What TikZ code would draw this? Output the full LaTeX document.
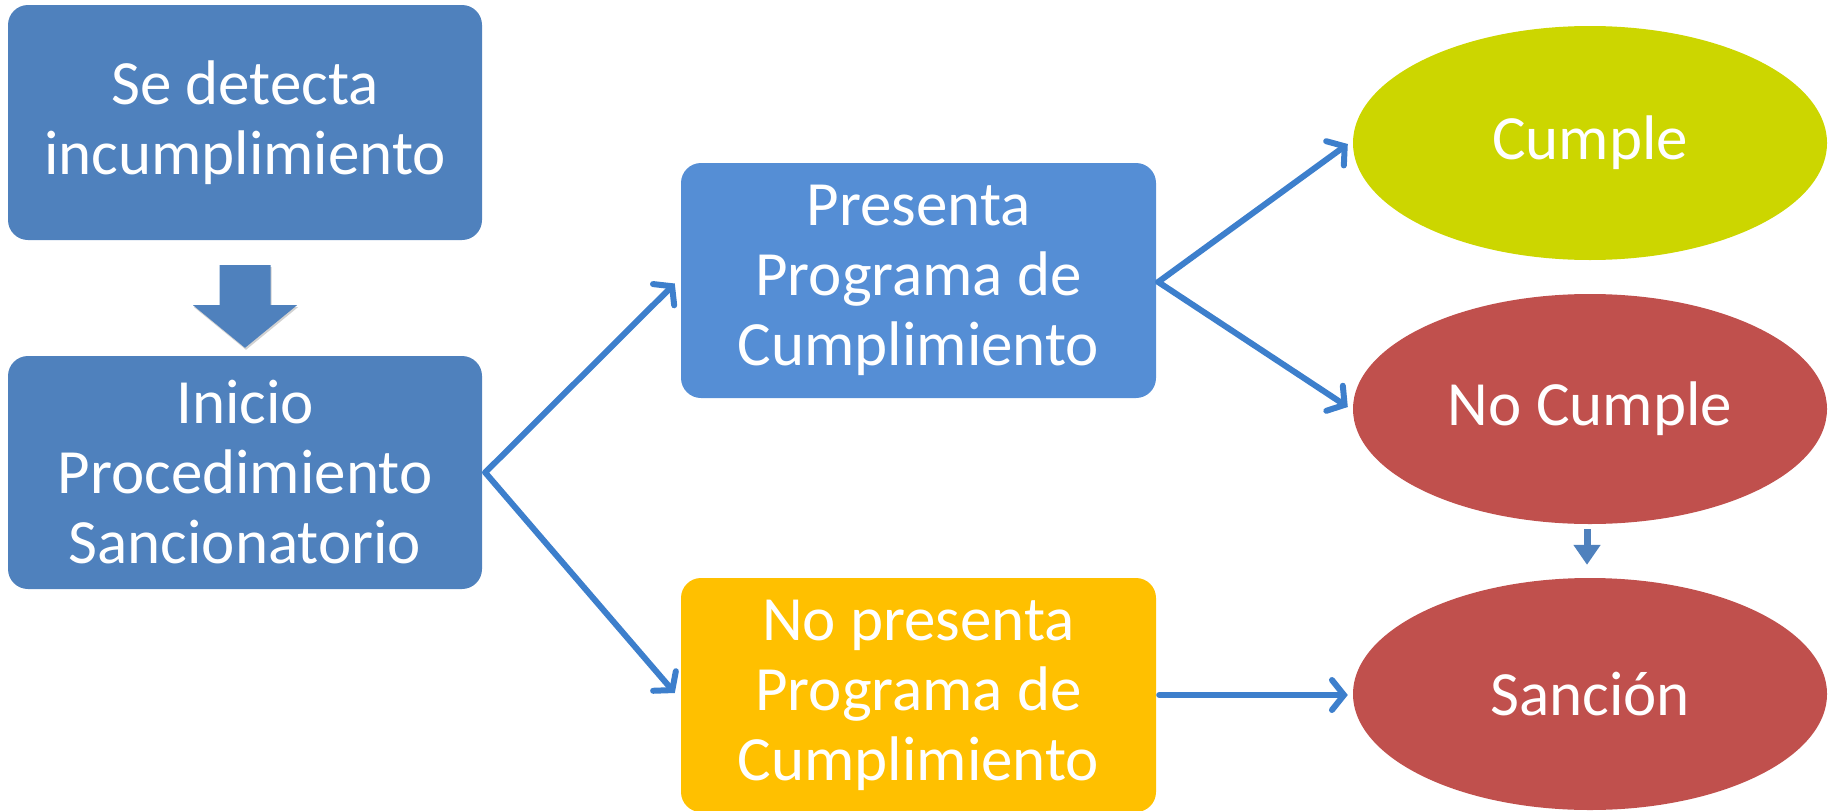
\documentclass[tikz,border=0pt]{standalone}
\usepackage{fontspec}
\setmainfont{Carlito}
\usetikzlibrary{shapes.geometric,arrows.meta,calc}
\definecolor{boxblue}{HTML}{4F81BD}
\definecolor{lightblue}{HTML}{558ED5}
\definecolor{gold}{HTML}{FFC000}
\definecolor{lime}{HTML}{CCD600}
\definecolor{redish}{HTML}{C0504D}
\definecolor{linkblue}{HTML}{3D7FCC}
\begin{document}
\begin{tikzpicture}[x=1pt,y=-1pt,
  box/.style={rectangle, rounded corners=20pt, minimum width=474pt, inner sep=0pt,
    text=white, align=center, font=\fontsize{63}{70}\selectfont},
  ell/.style={ellipse, minimum width=474pt, inner sep=0pt,
    text=white, align=center, font=\fontsize{63}{70}\selectfont},
  conn/.style={draw=linkblue, line width=6pt, line cap=round, line join=round,
    -{Straight Barb[length=12pt,width=30pt,line cap=round]}},
  smallarrow/.style={draw=boxblue, line width=7pt, -{Triangle[length=20pt,width=26pt]}}]
\useasboundingbox (0,0) rectangle (1839,811);

\node[box, fill=boxblue, minimum height=235pt] (b1) at (245,122.5) {Se detecta\\incumplimiento};
\node[box, fill=boxblue, minimum height=233pt] (b2) at (245,472.5) {Inicio\\Procedimiento\\Sancionatorio};
\node[box, fill=lightblue, minimum width=475pt, minimum height=235pt] (b3) at (918.5,280.5) {Presenta\\Programa de\\Cumplimiento};
\node[box, fill=gold, minimum width=475pt, minimum height=234pt] (b4) at (918.5,695) {No presenta\\Programa de\\Cumplimiento};

\node[ell, fill=lime, minimum height=234pt] (cu) at (1590,143) {Cumple};
\node[ell, fill=redish, minimum height=230pt] (nc) at (1590,409) {No Cumple};
\node[ell, fill=redish, minimum height=232pt] (sa) at (1590,694) {Sanción};

% block arrow
\fill[black, opacity=0.18] ($(b1.south)+(-24.5,27)$) -- ($(b1.south)+(26.5,27)$) -- ($(b1.south)+(26.5,67)$)
  -- ($(b1.south)+(53,67)$) -- ($(b2.north)+(1,-6)$) -- ($(b1.south)+(-51,67)$)
  -- ($(b1.south)+(-24.5,67)$) -- cycle;
\fill[boxblue] ($(b1.south)+(-25.5,25)$) -- ($(b1.south)+(25.5,25)$) -- ($(b1.south)+(25.5,65)$)
  -- ($(b1.south)+(52,65)$) -- ($(b2.north)+(0,-8)$) -- ($(b1.south)+(-52,65)$)
  -- ($(b1.south)+(-25.5,65)$) -- cycle;

% connectors
\draw[conn] ([xshift=3pt]b2.east) -- ([shift={(-6,3)}]b3.west);
\draw[conn] ([xshift=3pt]b2.east) -- ([shift={(-6,-2)}]b4.west);
\draw[conn] ([shift={(2,1.5)}]b3.east) -- ([shift={(-5,1)}]cu.west);
\draw[conn] ([shift={(2,1.5)}]b3.east) -- ([shift={(-5,-2)}]nc.west);
\draw[conn] ([shift={(3,0)}]b4.east) -- ([shift={(-5,1)}]sa.west);
\draw[smallarrow] ([shift={(-3,5)}]nc.south) -- ([shift={(-3,-13)}]sa.north);
\end{tikzpicture}
\end{document}
